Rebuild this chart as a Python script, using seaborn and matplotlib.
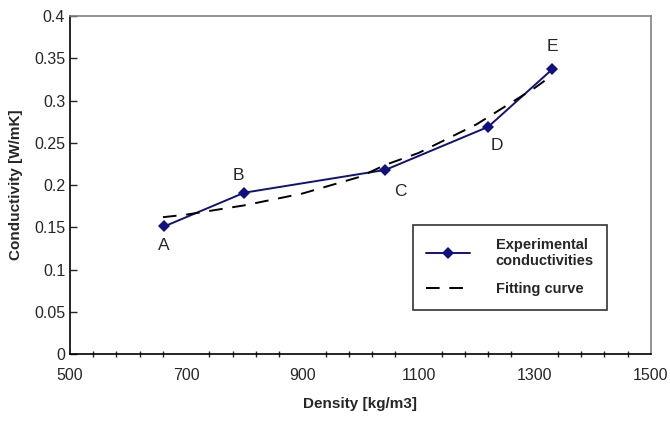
import matplotlib
matplotlib.use("Agg")
import matplotlib.pyplot as plt
import seaborn as sns
import pandas as pd
from matplotlib.ticker import MultipleLocator

# Data
density = [662, 800, 1043, 1220, 1330]
conductivity = [0.151, 0.191, 0.218, 0.269, 0.337]
point_labels = ['A', 'B', 'C', 'D', 'E']

fit_density = [660, 700, 800, 900, 1000, 1043, 1100, 1200, 1300, 1330]
fit_conductivity = [0.162, 0.165, 0.176, 0.190, 0.210, 0.224, 0.238, 0.272, 0.315, 0.330]

x_ticks = [500, 700, 900, 1100, 1300, 1500]
y_ticks = [0, 0.05, 0.1, 0.15, 0.2, 0.25, 0.3, 0.35, 0.4]
y_tick_labels = ['0', '0.05', '0.1', '0.15', '0.2', '0.25', '0.3', '0.35', '0.4']

df = pd.DataFrame({'Density': density, 'Conductivity': conductivity})
df_fit = pd.DataFrame({'Density': fit_density, 'Conductivity': fit_conductivity})

sns.set_style('white')
plt.rcParams['font.family'] = ['Liberation Sans', 'DejaVu Sans']

fig = plt.figure(figsize=(6.7, 4.25), dpi=100)
ax = fig.add_axes([0.1045, 0.167, 0.867, 0.795])

sns.lineplot(x='Density', y='Conductivity', data=df, ax=ax, color='#10107e',
             marker='D', markersize=6, linewidth=1.4, markeredgewidth=0,
             label='Experimental\nconductivities')
sns.lineplot(x='Density', y='Conductivity', data=df_fit, ax=ax, color='black',
             linestyle=(0, (7, 5)), linewidth=1.4, label='Fitting curve')

# point letters
offsets = {'A': (0, -0.022), 'B': (-10, 0.02), 'C': (25, -0.025), 'D': (15, -0.022), 'E': (0, 0.027)}
for x, y, lab in zip(density, conductivity, point_labels):
    dx, dy = offsets[lab]
    ax.text(x + dx, y + dy, lab, ha='center', va='center', fontsize=12.5)

ax.set_xlim(500, 1500)
ax.set_ylim(0, 0.4)
ax.set_xticks(x_ticks)
ax.set_xticklabels([str(t) for t in x_ticks])
ax.xaxis.set_minor_locator(MultipleLocator(40, offset=20))
ax.set_yticks(y_ticks)
ax.set_yticklabels(y_tick_labels)
ax.tick_params(axis='x', which='major', direction='inout', length=8, width=1, labelsize=11.5, pad=6)
ax.tick_params(axis='x', which='minor', direction='inout', length=4, width=1, bottom=True)
ax.tick_params(axis='y', which='major', direction='in', length=5, width=1, labelsize=11.5, left=True)

for side in ['left', 'bottom']:
    ax.spines[side].set_color('black')
    ax.spines[side].set_linewidth(1.2)
for side in ['top', 'right']:
    ax.spines[side].set_color('#808080')
    ax.spines[side].set_linewidth(1.2)

ax.set_xlabel('Density [kg/m3]', fontsize=11, fontweight='bold', labelpad=10)
ax.set_ylabel('Conductivity [W/mK]', fontsize=11, fontweight='bold', labelpad=8)

leg = ax.legend(loc='lower right', bbox_to_anchor=(0.937, 0.11), frameon=True, fancybox=False,
                edgecolor='black', prop={'weight': 'bold', 'size': 10.5},
                handlelength=3, borderpad=0.9, labelspacing=1.0, handletextpad=1.8)
leg.get_frame().set_linewidth(1.2)

plt.savefig('out.png', dpi=100)
